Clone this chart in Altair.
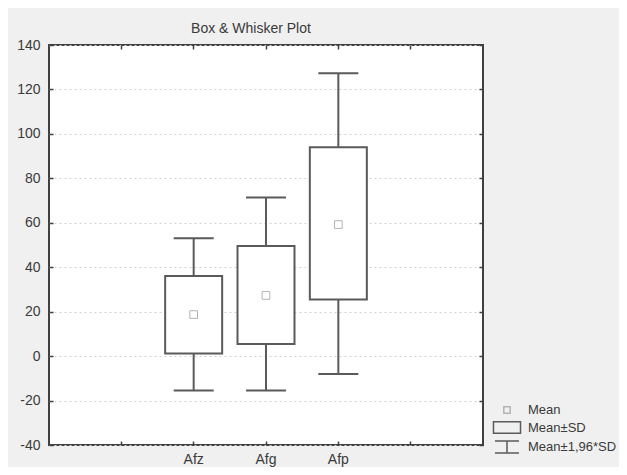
import altair as alt
import pandas as pd

# ---- data ----
cats = ["Afz", "Afg", "Afp"]
means = [18.7, 27.3, 59.2]
sd_lo = [1.2, 5.4, 25.5]
sd_hi = [36.0, 49.5, 94.0]
ci_lo = [-15.5, -15.5, -8.0]
ci_hi = [53.0, 71.4, 127.3]
y_ticks = [-40, -20, 0, 20, 40, 60, 80, 100, 120, 140]
legend_items = ["Mean", "Mean±SD", "Mean±1,96*SD"]
x_domain = [""] + cats + [" "]

df = pd.DataFrame({
    "cat": cats, "mean": means, "sd_lo": sd_lo, "sd_hi": sd_hi,
    "ci_lo": ci_lo, "ci_hi": ci_hi, "stat": ["Mean"] * len(cats),
})

FONT = "Liberation Sans"
FRAME = "#404040"
BOX = "#5a5a5a"
TXT = "#3a3a3a"

xscale = alt.Scale(domain=x_domain, padding=1)
yscale = alt.Scale(domain=[-40, 140], nice=False, zero=False)

bottom_axis = alt.Axis(title=None, orient="bottom", domain=False, tickSize=4, offset=-4,
                       tickColor=FRAME, tickWidth=1.5, labelFont=FONT, labelFontSize=14,
                       labelColor=TXT, labelPadding=7, labelAngle=0, grid=False)
left_axis = alt.Axis(title=None, orient="left", values=y_ticks, domain=False, tickSize=4,
                     offset=-4, tickColor=FRAME, tickWidth=1.5, labelFont=FONT,
                     labelFontSize=14, labelColor=TXT, labelPadding=9, grid=True,
                     labelExpr="'' + datum.value",
                     gridColor="#d2d2d2", gridDash=[2, 3], gridWidth=1)
top_axis = alt.Axis(title=None, orient="top", domain=False, labels=False, tickSize=4,
                    offset=-4, tickColor=FRAME, tickWidth=1.5, grid=False)
right_axis = alt.Axis(title=None, orient="right", values=y_ticks, domain=False, labels=False,
                      tickSize=4, offset=-4, tickColor=FRAME, tickWidth=1.5, grid=False)

shape_paths = [
    "M-0.4,-0.4H0.4V0.4H-0.4Z",
    "M-1.69,-0.72H1.69V0.72H-1.69Z",
    "M-1.5,-0.75H1.5M0,-0.75V0.75M-1.5,0.75H1.5",
]
legend_cfg = dict(orient="none", legendX=449, legendY=356, title=None, labelFont=FONT,
                  labelFontSize=13, labelColor=TXT, labelOffset=12, symbolSize=256,
                  symbolStrokeWidth=1.5, rowPadding=1.5, padding=0,
                  symbolFillColor="transparent")

base = alt.Chart(df)

whisk = base.mark_rule(color=BOX, strokeWidth=2).encode(
    x=alt.X("cat:N", scale=xscale, axis=bottom_axis),
    y=alt.Y("ci_lo:Q", scale=yscale, axis=left_axis),
    y2="ci_hi:Q",
)
caps_lo = base.mark_tick(color=BOX, size=40, thickness=2, orient="horizontal", opacity=1).encode(
    x=alt.X("cat:N", scale=xscale, axis=top_axis),
    y=alt.Y("ci_lo:Q", scale=yscale, axis=right_axis),
)
caps_hi = base.mark_tick(color=BOX, size=40, thickness=2, orient="horizontal", opacity=1).encode(
    x=alt.X("cat:N", scale=xscale, axis=None),
    y=alt.Y("ci_hi:Q", scale=yscale, axis=None),
)
box = base.mark_bar(size=57, fill="white", stroke=BOX, strokeWidth=2, opacity=1).encode(
    x=alt.X("cat:N", scale=xscale, axis=None),
    y=alt.Y("sd_lo:Q", scale=yscale, axis=None),
    y2="sd_hi:Q",
)
mean_pts = base.mark_point(filled=False, size=370, strokeWidth=1, opacity=1).encode(
    x=alt.X("cat:N", scale=xscale, axis=None),
    y=alt.Y("mean:Q", scale=yscale, axis=None),
    shape=alt.Shape("stat:N", scale=alt.Scale(domain=legend_items, range=shape_paths),
                    legend=alt.Legend(**legend_cfg)),
    color=alt.Color("stat:N", scale=alt.Scale(domain=legend_items,
                                              range=["#b3b3b3", BOX, BOX]),
                    legend=alt.Legend(**legend_cfg)),
)

chart = (
    alt.layer(whisk, caps_lo, caps_hi, box, mean_pts)
    .resolve_axis(x="independent", y="independent")
    .properties(
        width=434, height=400,
        title=alt.TitleParams("Box & Whisker Plot", font=FONT, fontSize=14,
                              fontWeight="normal", color=TXT, anchor="middle",
                              dx=-15, offset=2),
        padding={"left": 41, "top": 37, "right": 136, "bottom": 22},
        autosize=alt.AutoSizeParams(type="none"),
        background="#f0f0f0",
    )
    .configure_view(stroke=FRAME, strokeWidth=2, fill="white")
)

chart.save("out.html", embed_options={"renderer": "svg", "actions": False})
